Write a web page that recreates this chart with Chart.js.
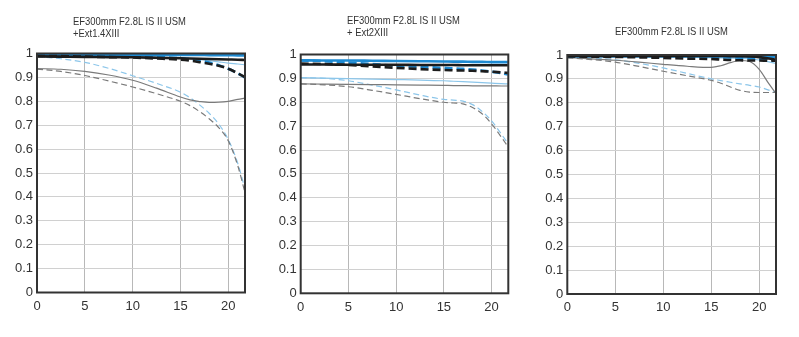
<!DOCTYPE html>
<html><head><meta charset="utf-8">
<script src="https://cdn.jsdelivr.net/npm/chart.js@4/dist/chart.umd.min.js"></script>
<style>
html,body{margin:0;padding:0;background:#fff;}
body{width:799px;height:337px;position:relative;overflow:hidden;}
.box{position:absolute;top:0;height:337px;}
.ttl{position:absolute;font-family:"Liberation Sans",Arial,sans-serif;font-size:11.5px;line-height:12px;color:#333;white-space:nowrap;transform:scaleX(0.82);transform-origin:0 0;}
</style></head><body>
<div class="box" style="left:0;width:262px"><canvas id="c1"></canvas></div>
<div class="box" style="left:262px;width:266px"><canvas id="c2"></canvas></div>
<div class="box" style="left:528px;width:271px"><canvas id="c3"></canvas></div>
<div class="ttl" style="left:73px;top:15px">EF300mm F2.8L IS II USM<br>+Ext1.4XIII</div>
<div class="ttl" style="left:347px;top:14px">EF300mm F2.8L IS II USM<br>+ Ext2XIII</div>
<div class="ttl" style="left:615px;top:25px">EF300mm F2.8L IS II USM</div>
<script>
// Image height positions (mm from centre)
const X = [0, 2.5, 5, 7.5, 10, 12.5, 15, 16, 17, 18, 19, 20, 21, 21.7];
const X_MAX = 21.75;
const X_TICKS = [0, 5, 10, 15, 20];
const Y_TICKS = [0, 0.1, 0.2, 0.3, 0.4, 0.5, 0.6, 0.7, 0.8, 0.9, 1];

// Chart 1: EF300mm F2.8L IS II USM + Ext1.4XIII
const c1_black10S = [0.988,0.987,0.986,0.985,0.984,0.982,0.980,0.979,0.978,0.977,0.976,0.975,0.974,0.973];
const c1_black10M = [0.990,0.989,0.987,0.985,0.983,0.979,0.974,0.970,0.964,0.957,0.949,0.936,0.917,0.902];
const c1_blue10S  = [0.995,0.995,0.995,0.995,0.995,0.995,0.994,0.994,0.994,0.993,0.993,0.993,0.992,0.992];
const c1_blue10M  = [0.995,0.994,0.993,0.991,0.988,0.985,0.980,0.976,0.970,0.962,0.951,0.936,0.917,0.900];
const c1_black30S = [0.937,0.934,0.925,0.910,0.888,0.855,0.818,0.806,0.799,0.795,0.796,0.800,0.808,0.813];
const c1_black30M = [0.935,0.925,0.908,0.885,0.860,0.832,0.800,0.782,0.757,0.727,0.690,0.635,0.530,0.425];
const c1_blue30S  = [0.993,0.993,0.992,0.991,0.990,0.987,0.983,0.979,0.975,0.970,0.965,0.960,0.956,0.953];
const c1_blue30M  = [0.987,0.978,0.963,0.938,0.907,0.875,0.838,0.815,0.785,0.750,0.705,0.640,0.540,0.440];

// Chart 2: EF300mm F2.8L IS II USM + Ext2XIII
const c2_black10S = [0.958,0.958,0.957,0.957,0.957,0.956,0.956,0.956,0.955,0.955,0.955,0.955,0.955,0.955];
const c2_black10M = [0.962,0.960,0.956,0.950,0.944,0.939,0.935,0.934,0.933,0.932,0.930,0.928,0.925,0.923];
const c2_blue10S  = [0.976,0.975,0.975,0.974,0.973,0.972,0.971,0.970,0.970,0.969,0.969,0.968,0.968,0.968];
const c2_blue10M  = [0.975,0.972,0.966,0.960,0.953,0.948,0.944,0.942,0.940,0.937,0.933,0.928,0.922,0.916];
const c2_black30S = [0.877,0.876,0.875,0.874,0.873,0.872,0.871,0.870,0.870,0.869,0.869,0.869,0.868,0.868];
const c2_black30M = [0.877,0.873,0.865,0.850,0.833,0.815,0.800,0.797,0.793,0.778,0.752,0.710,0.655,0.615];
const c2_blue30S  = [0.903,0.901,0.899,0.897,0.895,0.893,0.890,0.888,0.886,0.884,0.882,0.880,0.878,0.877];
const c2_blue30M  = [0.903,0.900,0.890,0.872,0.852,0.830,0.812,0.809,0.805,0.790,0.762,0.722,0.668,0.628];

// Chart 3: EF300mm F2.8L IS II USM
const c3_black10S = [0.996,0.996,0.996,0.996,0.996,0.996,0.996,0.996,0.995,0.995,0.994,0.991,0.985,0.980];
const c3_black10M = [0.994,0.993,0.992,0.990,0.988,0.985,0.983,0.981,0.979,0.978,0.977,0.977,0.976,0.976];
const c3_blue10S  = [0.995,0.995,0.995,0.995,0.995,0.995,0.995,0.995,0.995,0.994,0.994,0.994,0.993,0.993];
const c3_blue10M  = [0.994,0.994,0.994,0.994,0.994,0.993,0.992,0.991,0.990,0.989,0.987,0.985,0.982,0.979];
const c3_black30S = [0.989,0.984,0.978,0.970,0.961,0.953,0.948,0.955,0.968,0.977,0.973,0.940,0.880,0.842];
const c3_black30M = [0.988,0.981,0.970,0.952,0.932,0.913,0.894,0.882,0.866,0.852,0.845,0.843,0.843,0.843];
const c3_blue30S  = [0.993,0.993,0.992,0.992,0.991,0.990,0.989,0.988,0.987,0.986,0.984,0.979,0.971,0.965];
const c3_blue30M  = [0.990,0.987,0.980,0.965,0.946,0.923,0.900,0.893,0.886,0.879,0.873,0.866,0.853,0.843];

const TICK_FONT = {family:'"Liberation Sans",Arial,sans-serif', size:13};
const BLACK = '#1c1c1c', GRAY = '#7a7a7a', BLUE = '#1e8ad2', LBLUE = '#8cc6ea';

const frame = {
  id:'frame',
  afterDatasetsDraw(chart){
    const {ctx, chartArea:a} = chart;
    ctx.save();
    ctx.strokeStyle = '#333';
    ctx.lineWidth = 2;
    ctx.strokeRect(a.left, a.top, a.right - a.left, a.bottom - a.top);
    ctx.restore();
  }
};

function pts(arr){ return X.map((x,i)=>({x:x, y:arr[i]})); }
function ds(arr, color, thick, dashed){
  return {data:pts(arr), borderColor:color, borderWidth: thick ? 2.6 : 1.2,
          borderDash: dashed ? (thick ? [8,4] : [6,3.5]) : [], pointRadius:0, fill:false,
          cubicInterpolationMode:'monotone'};
}

function makeChart(id, pad, s){
  new Chart(document.getElementById(id), {
    type:'line',
    data:{datasets:[
      ds(s.black10M, BLACK, true, true),
      ds(s.black10S, BLACK, true, false),
      ds(s.blue10M, BLUE, true, true),
      ds(s.blue10S, BLUE, true, false),
      ds(s.black30S, GRAY, false, false),
      ds(s.black30M, GRAY, false, true),
      ds(s.blue30S, LBLUE, false, false),
      ds(s.blue30M, LBLUE, false, true)
    ]},
    options:{
      responsive:true, maintainAspectRatio:false, animation:false,
      layout:{padding:pad},
      plugins:{legend:{display:false}, tooltip:{enabled:false}},
      scales:{
        x:{type:'linear', min:0, max:X_MAX,
           afterBuildTicks: sc => { sc.ticks = X_TICKS.map(v=>({value:v})); },
           ticks:{font:TICK_FONT, color:'#333', padding:6, maxRotation:0, autoSkip:false},
           grid:{color:'#b8b8b8', lineWidth:1, drawTicks:false},
           border:{display:false},
           afterFit: sc => { sc.height = 30; }},
        y:{type:'linear', min:0, max:1,
           afterBuildTicks: sc => { sc.ticks = Y_TICKS.map(v=>({value:v})); },
           ticks:{font:TICK_FONT, color:'#333', padding:4, autoSkip:false,
                  callback: v => String(Math.round(v*10)/10)},
           grid:{color:'#d0d0d0', lineWidth:1, drawTicks:false},
           border:{display:false},
           afterFit: sc => { sc.width = 30; }}
      }
    },
    plugins:[frame]
  });
}

makeChart('c1', {left:7, top:53.5, right:17, bottom:14.5},
  {black10S:c1_black10S, black10M:c1_black10M, blue10S:c1_blue10S, blue10M:c1_blue10M,
   black30S:c1_black30S, black30M:c1_black30M, blue30S:c1_blue30S, blue30M:c1_blue30M});
makeChart('c2', {left:8.7, top:54.5, right:19.7, bottom:13.7},
  {black10S:c2_black10S, black10M:c2_black10M, blue10S:c2_blue10S, blue10M:c2_blue10M,
   black30S:c2_black30S, black30M:c2_black30M, blue30S:c2_blue30S, blue30M:c2_blue30M});
makeChart('c3', {left:9.3, top:55, right:23, bottom:13},
  {black10S:c3_black10S, black10M:c3_black10M, blue10S:c3_blue10S, blue10M:c3_blue10M,
   black30S:c3_black30S, black30M:c3_black30M, blue30S:c3_blue30S, blue30M:c3_blue30M});
</script>
</body></html>
